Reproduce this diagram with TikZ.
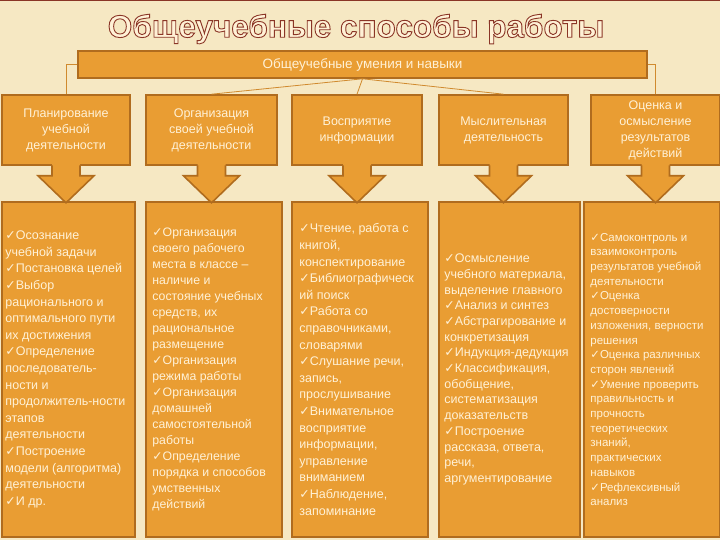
\documentclass[tikz,border=0pt]{standalone}
\usepackage{fontspec}
\setmainfont{Liberation Sans}
\newfontfamily\symfont{DejaVu Sans}
\usepackage{xcolor}
\usetikzlibrary{arrows.meta}
\usetikzlibrary{positioning}
\definecolor{bgcream}{HTML}{F6E8C3}
\definecolor{boxorange}{HTML}{E99D33}
\definecolor{boxedge}{HTML}{B06C1E}
\definecolor{txtcream}{HTML}{FFF1D6}
\definecolor{titlebrown}{HTML}{8A3526}
\definecolor{linkline}{HTML}{D08A2E}
\newcommand{\chk}{{\symfont ✓}}
% outlined title text
\newcommand{\outlined}[1]{\special{pdf:literal direct 2 Tr 0.9 w 0.541 0.208 0.149 RG}#1\special{pdf:literal direct 0 Tr}}

\begin{document}
\begin{tikzpicture}[x=1pt,y=-1pt]
  \tikzset{headbox/.style = {shape=rectangle,draw=boxedge,fill=boxorange,line width=1.6pt,minimum height=70pt,inner sep=2pt,align=center,text=txtcream,font=\fontsize{12.5}{16}\selectfont}}
  \tikzset{bodybox/.style = {shape=rectangle,draw=boxedge,fill=boxorange,line width=1.6pt,minimum height=335pt}}
  \tikzset{barbox/.style = {shape=rectangle,draw=boxedge,fill=boxorange,line width=1.6pt,minimum width=569pt,minimum height=27pt,text=txtcream,font=\fontsize{13.5}{16}\selectfont}}
  \tikzset{bodytext/.style = {align=left,inner sep=0pt,text=txtcream,anchor=west}}
  \tikzset{link/.style = {draw=linkline,line width=0.8pt}}
  \tikzset{%
  blockarrow/.pic={
    \fill[boxorange] (-14,-2) -- (-14,10) -- (-28,10) -- (0,37) -- (28,10) -- (14,10) -- (14,-2) -- cycle;
    \draw[boxedge,line width=1.6pt] (-14,-0.5) -- (-14,10) -- (-28,10) -- (0,37) -- (28,10) -- (14,10) -- (14,-0.5);
  },
}

	\useasboundingbox (0,0) rectangle (720,540);
	\fill[bgcream] (0,0) rectangle (720,540);
	\draw[titlebrown,line width=2pt] (0,0) -- (720,0);

	\node[text=txtcream,font=\bfseries\fontsize{31.5}{38}\selectfont] (title) at (356,29) {\outlined{Общеучебные способы работы}};

	\node[barbox] (bar) at (362.5,64.5) {Общеучебные умения и навыки};

	\node[headbox,minimum width=128pt] (h1) at (66,130) {Планирование\\учебной\\деятельности};
	\node[headbox,minimum width=131pt] (h2) at (211.5,130) {Организация\\своей учебной\\деятельности};
	\node[headbox,minimum width=130pt] (h3) at (357,130) {Восприятие\\информации};
	\node[headbox,minimum width=129pt] (h4) at (503.5,130) {Мыслительная\\деятельность};
	\node[headbox,minimum width=129pt] (h5) at (655.5,130) {Оценка и\\осмысление\\результатов\\действий};

	\node[bodybox,minimum width=133pt] (b1) at (68.5,369.5) {};
	\node[bodybox,minimum width=136pt] (b2) at (214,369.5) {};
	\node[bodybox,minimum width=136pt] (b3) at (360,369.5) {};
	\node[bodybox,minimum width=141pt] (b4) at (509.5,369.5) {};
	\node[bodybox,minimum width=136pt] (b5) at (652,369.5) {};

	\foreach \n in {1,...,5}
	\pic at (h\n.south) {blockarrow};

	\foreach \to in {h2,h3,h4}
	\path[link](bar.south) edge (\to.north);
	\draw[link] (bar.west) -| (h1.north);
	\draw[link] (bar.east) -| (h5.north);

	\node[bodytext,font=\fontsize{12.5}{16.6}\selectfont] (t1) at ([xshift=4pt]b1.west) {\chk Осознание\\учебной задачи\\\chk Постановка целей\\\chk Выбор\\рационального и\\оптимального пути\\их достижения\\\chk Определение\\последователь-\\ности и\\продолжитель-ности\\этапов\\деятельности\\\chk Построение\\модели (алгоритма)\\деятельности\\\chk И др.};
	\node[bodytext,font=\fontsize{12.3}{16.05}\selectfont] (t2) at ([xshift=7pt]b2.west) {\chk Организация\\своего рабочего\\места в классе –\\наличие и\\состояние учебных\\средств, их\\рациональное\\размещение\\\chk Организация\\режима работы\\\chk Организация\\домашней\\самостоятельной\\работы\\\chk Определение\\порядка и способов\\умственных\\действий};
	\node[bodytext,font=\fontsize{12.5}{16.6}\selectfont] (t3) at ([xshift=8pt]b3.west) {\chk Чтение, работа с\\книгой,\\конспектирование\\\chk Библиографическ\\ий поиск\\\chk Работа со\\справочниками,\\словарями\\\chk Слушание речи,\\запись,\\прослушивание\\\chk Внимательное\\восприятие\\информации,\\управление\\вниманием\\\chk Наблюдение,\\запоминание};
	\node[bodytext,font=\fontsize{12.5}{15.7}\selectfont] (t4) at ([xshift=6pt]b4.west) {\chk Осмысление\\учебного материала,\\выделение главного\\\chk Анализ и синтез\\\chk Абстрагирование и\\конкретизация\\\chk Индукция-дедукция\\\chk Классификация,\\обобщение,\\систематизация\\доказательств\\\chk Построение\\рассказа, ответа,\\речи,\\аргументирование};
	\node[bodytext,font=\fontsize{11.5}{14.7}\selectfont] (t5) at ([xshift=7pt]b5.west) {\chk Самоконтроль и\\взаимоконтроль\\результатов учебной\\деятельности\\\chk Оценка\\достоверности\\изложения, верности\\решения\\\chk Оценка различных\\сторон явлений\\\chk Умение проверить\\правильность и\\прочность\\теоретических\\знаний,\\практических\\навыков\\\chk Рефлексивный\\анализ};

\end{tikzpicture}
\end{document}
